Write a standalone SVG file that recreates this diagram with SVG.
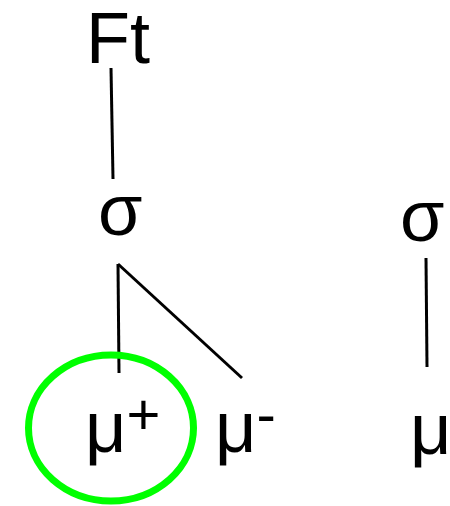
<svg xmlns="http://www.w3.org/2000/svg" width="450" height="506" viewBox="0 0 450 506">
<style>
text{font-family:"Liberation Sans",Arial,sans-serif;font-size:72px;fill:#000}
.sup{font-size:58px}
.c line{stroke:#000;stroke-width:3;stroke-linecap:butt}
</style>
<rect width="450" height="506" fill="#fff"/>
<g class="c" id="connectors">
<line x1="111" y1="68" x2="113" y2="179"/>
<line x1="118" y1="264" x2="119" y2="373"/>
<line x1="118" y1="264" x2="242" y2="378"/>
<line x1="426" y1="258" x2="427" y2="367"/>
</g>
<g id="ft"><text x="86" y="63">Ft</text></g>
<g id="sigma1"><text x="98" y="235">σ</text></g>
<g id="sigma2"><text x="400" y="241">σ</text></g>
<g id="muplus"><ellipse cx="111" cy="428" rx="82.5" ry="73" fill="none" stroke="#00ff00" stroke-width="7"/><text x="85" y="452">μ<tspan class="sup" dy="-18">+</tspan></text></g>
<g id="muminus"><text x="215" y="452">μ<tspan class="sup" dy="-18">-</tspan></text></g>
<g id="mu"><text x="410" y="454">μ</text></g>
</svg>
